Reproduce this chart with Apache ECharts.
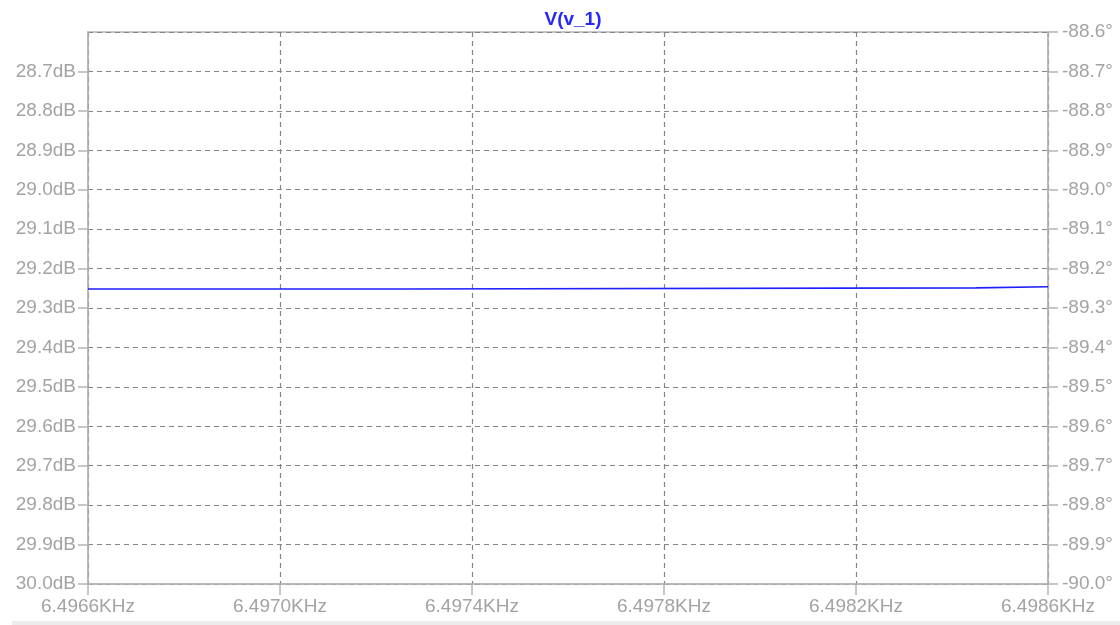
<!DOCTYPE html>
<html>
<head>
<meta charset="utf-8">
<script src="https://cdn.jsdelivr.net/npm/echarts@6/dist/echarts.min.js"></script>
<style>
  html, body { margin: 0; padding: 0; background: #ffffff; }
  #chart { width: 1120px; height: 625px; }
</style>
</head>
<body>
<div id="chart"></div>
<script>
// Frequency sweep (KHz) and magnitude of V(v_1) in dB (axis labelled by magnitude, drawn downward).
// Each level is held flat until the next frequency step.
const freqKHz = [6.4966, 6.49725, 6.49725, 6.49845, 6.49845, 6.4986];
const magDB   = [29.252, 29.252, 29.249, 29.249, 29.246, 29.246];

// Axis ranges and tick steps
const freqRange = [6.4966, 6.4986];
const freqStep = 0.0004;
const magRange = [28.6, 30.0];
const magStep = 0.1;
const phaseRange = [-90.0, -88.6];
const phaseStep = 0.1;

const axisGray = '#b4b4b4';
const labelGray = '#a3a3a3';
const gridGray = '#858585';
const labelFont = { fontFamily: 'Liberation Sans', fontSize: 19, color: labelGray };

const chart = echarts.init(document.getElementById('chart'), null, { renderer: 'canvas' });

chart.setOption({
  animation: false,
  backgroundColor: '#ffffff',
  title: {
    text: 'V(v_1)',
    left: 568,
    top: 5,
    textAlign: 'center',
    textStyle: { fontFamily: 'Liberation Sans', fontSize: 19, fontWeight: 'bold', color: '#2626ff' }
  },
  grid: {
    left: 88, right: 72, top: 32, bottom: 41,
    show: true, borderColor: axisGray, borderWidth: 1.5, backgroundColor: 'transparent'
  },
  graphic: [{
    type: 'rect', left: 12, top: 621, shape: { width: 1108, height: 4 },
    style: { fill: '#ececec' }, silent: true
  }],
  xAxis: {
    type: 'value',
    min: freqRange[0], max: freqRange[1], interval: freqStep,
    axisLine: { show: true, lineStyle: { color: axisGray, width: 1.5 } },
    axisTick: { show: true, inside: false, length: 11, lineStyle: { color: axisGray, width: 1.5 } },
    axisLabel: Object.assign({ margin: 13, formatter: v => v.toFixed(4) + 'KHz', showMinLabel: true, showMaxLabel: true }, labelFont),
    splitLine: { show: true, lineStyle: { color: gridGray, type: [5, 4], width: 1.2 } }
  },
  yAxis: [{
    type: 'value',
    position: 'left',
    inverse: true,
    min: magRange[0], max: magRange[1], interval: magStep,
    axisLine: { show: true, lineStyle: { color: axisGray, width: 1.5 } },
    axisTick: {
      show: true, inside: false, length: 10, lineStyle: { color: axisGray, width: 1.5 },
      interval: (i) => i !== 0
    },
    axisLabel: Object.assign({
      margin: 12,
      showMinLabel: false,
      formatter: v => v.toFixed(1) + 'dB'
    }, labelFont),
    splitLine: { show: true, lineStyle: { color: gridGray, type: [5, 4], width: 1.2 } }
  }, {
    type: 'value',
    position: 'right',
    min: phaseRange[0], max: phaseRange[1], interval: phaseStep,
    axisLine: { show: true, lineStyle: { color: axisGray, width: 1.5 } },
    axisTick: { show: true, inside: false, length: 10, lineStyle: { color: axisGray, width: 1.5 } },
    axisLabel: Object.assign({ margin: 14, formatter: v => v.toFixed(1) + '°' }, labelFont),
    splitLine: { show: false }
  }],
  series: [{
    type: 'line',
    yAxisIndex: 0,
    data: freqKHz.map((f, i) => [f, magDB[i]]),
    showSymbol: false,
    lineStyle: { color: '#1f1fff', width: 1.6 },
    z: 5
  }]
});
</script>
</body>
</html>
